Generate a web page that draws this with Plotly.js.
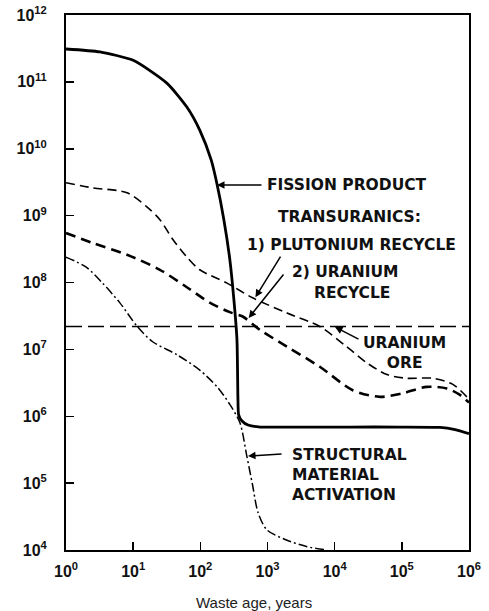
<!DOCTYPE html>
<html>
<head>
<meta charset="utf-8">
<script src="https://cdn.plot.ly/plotly-3.0.1.min.js"></script>
<style>html,body{margin:0;padding:0;background:#fff;}#chart{width:489px;height:611px;}</style>
</head>
<body>
<div id="chart"></div>
<script>
// ---- data ----
const fissionAge   = [1, 3.2, 10, 32, 63, 98, 145, 178, 224, 275, 316, 351, 363, 372, 417, 513, 776, 3000, 17000, 93000, 370000, 620000, 1000000];
const fissionValue = [3.1e11, 2.8e11, 2.1e11, 9.5e10, 4.2e10, 1.9e10, 6.8e9, 2.9e9, 8.7e8, 2.2e8, 5.5e7, 1.4e7, 1.8e6, 1.05e6, 8.5e5, 7.4e5, 6.9e5, 6.9e5, 6.9e5, 6.9e5, 6.8e5, 6.3e5, 5.5e5];

const plutoniumAge   = [1, 2.5, 8.1, 16, 25, 39, 63, 98, 250, 600, 1950, 6000, 15000, 30000, 60000, 117000, 290000, 575000, 1000000];
const plutoniumValue = [3.1e9, 2.6e9, 2.2e9, 1.35e9, 8.7e8, 4.4e8, 2.4e8, 1.55e8, 9.8e7, 5.9e7, 3.5e7, 2.2e7, 1.1e7, 6.3e6, 4.2e6, 3.7e6, 3.7e6, 3.0e6, 1.8e6];

const uraniumAge   = [1, 2.5, 8.1, 25, 63, 138, 275, 427, 776, 1950, 6000, 18600, 47000, 102000, 234000, 468000, 724000, 1000000];
const uraniumValue = [5.5e8, 3.9e8, 2.6e8, 1.55e8, 8.5e7, 5.0e7, 3.6e7, 3.1e7, 1.95e7, 1.1e7, 5.5e6, 2.45e6, 1.95e6, 2.2e6, 2.75e6, 2.6e6, 2.1e6, 1.6e6];

const structuralAge   = [1, 2.0, 3.5, 6.3, 11.5, 19.5, 45, 98, 178, 275, 390, 490, 600, 725, 980, 1950, 3900, 7600];
const structuralValue = [2.4e8, 1.7e8, 9.8e7, 5.0e7, 2.2e7, 1.3e7, 8.3e6, 4.9e6, 2.75e6, 1.5e6, 7.9e5, 2.6e5, 9.3e4, 3.6e4, 2.0e4, 1.4e4, 1.12e4, 1.0e4];

const oreAge   = [1, 1000000];
const oreValue = [2.2e7, 2.2e7];

const xTickVals  = [1, 10, 100, 1000, 10000, 100000, 1000000];
const xTickText  = ['10<sup>0</sup>', '10<sup>1</sup>', '10<sup>2</sup>', '10<sup>3</sup>', '10<sup>4</sup>', '10<sup>5</sup>', '10<sup>6</sup>'];
const yTickVals  = [1e4, 1e5, 1e6, 1e7, 1e8, 1e9, 1e10, 1e11, 1e12];
const yTickText  = ['10<sup>4</sup>', '10<sup>5</sup>', '10<sup>6</sup>', '10<sup>7</sup>', '10<sup>8</sup>', '10<sup>9</sup>', '10<sup>10</sup>', '10<sup>11</sup>', '10<sup>12</sup>'];

const xTitle = 'Waste age, years';

// ---- traces ----
const traces = [
  {x: oreAge, y: oreValue, mode: 'lines', line: {color: '#000', width: 1.6, dash: '16px,6px'}},
  {x: structuralAge, y: structuralValue, mode: 'lines', line: {color: '#000', width: 1.5, dash: '9px,3px,2px,3px', shape: 'spline', smoothing: 0.8}},
  {x: uraniumAge, y: uraniumValue, mode: 'lines', line: {color: '#000', width: 2.6, dash: '10px,6px', shape: 'spline', smoothing: 0.8}},
  {x: plutoniumAge, y: plutoniumValue, mode: 'lines', line: {color: '#000', width: 1.6, dash: '9px,5px', shape: 'spline', smoothing: 0.8}},
  {x: fissionAge, y: fissionValue, mode: 'lines', line: {color: '#000', width: 2.8, shape: 'spline', smoothing: 0.6}}
];

const lblFont = {family: 'DejaVu Sans, Arial, sans-serif', size: 15.5, color: '#111', weight: 'bold'};
function arrow(x, y, ax, ay) {
  return {x: x, y: y, xref: 'x', yref: 'y', ax: ax, ay: ay, text: '', showarrow: true,
          arrowhead: 2, arrowsize: 1, arrowwidth: 1.5, arrowcolor: '#000'};
}
function label(text, x, y, xanchor, align) {
  return {x: x, y: y, xref: 'x', yref: 'y', text: text, showarrow: false,
          xanchor: xanchor, yanchor: 'middle', align: align || 'left', font: lblFont};
}

const annotations = [
  arrow(2.248, 9.458, 46, 0),
  arrow(2.82, 7.78, 26, -42),
  arrow(2.72, 7.47, 36, -45),
  arrow(4.005, 7.335, 25, 13),
  arrow(2.71, 5.406, 35, -2),
  label('FISSION PRODUCT', 2.963, 9.458, 'left'),
  label('TRANSURANICS:', 4.228, 8.979, 'center', 'center'),
  label('1) PLUTONIUM RECYCLE', 4.25, 8.561, 'center', 'center'),
  label('2) URANIUM', 3.335, 8.157, 'left'),
  label('RECYCLE', 3.662, 7.843, 'left'),
  label('URANIUM<br>ORE', 5.047, 6.953, 'center', 'center'),
  label('STRUCTURAL<br>MATERIAL<br>ACTIVATION', 3.335, 5.122, 'left', 'left'),
  {x: 0.467, y: -0.099, xref: 'paper', yref: 'paper', text: xTitle, showarrow: false,
   xanchor: 'center', yanchor: 'middle', font: {family: 'Liberation Sans, Arial, sans-serif', size: 15, color: '#222'}}
];

const tickFont = {family: 'Liberation Sans, Arial, sans-serif', size: 16, color: '#111', weight: 'bold'};

const layout = {
  width: 489, height: 611,
  margin: {l: 66, r: 20, t: 15, b: 61},
  paper_bgcolor: '#fff', plot_bgcolor: '#fff',
  showlegend: false,
  xaxis: {type: 'log', range: [0, 6], tickvals: xTickVals, ticktext: xTickText, ticks: 'inside', ticklen: 8, tickwidth: 1.5, tickcolor: '#000',
          showline: true, linewidth: 2, linecolor: '#000', mirror: true, showgrid: false, zeroline: false, tickfont: tickFont, ticklabelstandoff: 6},
  yaxis: {type: 'log', range: [4, 12], tickvals: yTickVals, ticktext: yTickText, ticks: 'inside', ticklen: 8, tickwidth: 1.5, tickcolor: '#000',
          showline: true, linewidth: 2, linecolor: '#000', mirror: true, showgrid: false, zeroline: false, tickfont: tickFont, ticklabelstandoff: 14},
  annotations: annotations
};

Plotly.newPlot('chart', traces, layout, {displayModeBar: false, staticPlot: true});
</script>
</body>
</html>
